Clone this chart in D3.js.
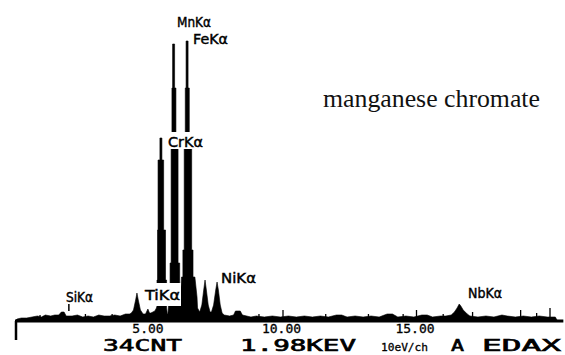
<!DOCTYPE html>
<html>
<head>
<meta charset="utf-8">
<script src="https://cdn.jsdelivr.net/npm/d3@7"></script>
<style>
body { margin: 0; background: #fff; }
</style>
</head>
<body>
<div id="chart"></div>
<script>
// spectrum outline, [energy keV, counts]
var spectrum = [
  [0.00, 0], [0.04, 1], [0.20, 2], [0.40, 2], [0.60, 3], [0.80, 4], [0.95, 3],
  [1.10, 5], [1.30, 4], [1.45, 5], [1.60, 5], [1.70, 8], [1.80, 8], [1.88, 4],
  [2.10, 4], [2.30, 5], [2.50, 3], [2.70, 4], [2.90, 3], [3.10, 5], [3.30, 4],
  [3.50, 4], [3.70, 5], [3.90, 4], [4.10, 6], [4.25, 6],
  // Ti
  [4.32, 7], [4.40, 10], [4.48, 20], [4.53, 27], [4.58, 20], [4.66, 10], [4.76, 6],
  [4.85, 6], [4.94, 11], [5.00, 7], [5.05, 7], [5.20, 9], [5.26, 12],
  // Cr
  [5.28, 14], [5.28, 40], [5.30, 40], [5.30, 90], [5.32, 90], [5.32, 160],
  [5.39, 160], [5.39, 182], [5.465, 182], [5.465, 160], [5.53, 160], [5.53, 90],
  [5.60, 90], [5.60, 40], [5.64, 40], [5.64, 12], [5.67, 6],
  // Mn
  [5.69, 6], [5.71, 14], [5.72, 35], [5.77, 35], [5.77, 57], [5.81, 57],
  [5.81, 178], [5.84, 178], [5.84, 232], [5.865, 232], [5.865, 276], [5.94, 276],
  [5.94, 232], [5.99, 232], [5.99, 178], [6.07, 178], [6.07, 57], [6.13, 57],
  [6.13, 35], [6.14, 18],
  // Fe
  [6.16, 23], [6.20, 43], [6.25, 43], [6.25, 70], [6.30, 70], [6.30, 178],
  [6.34, 178], [6.34, 232], [6.37, 232], [6.37, 279], [6.445, 279], [6.445, 232],
  [6.49, 232], [6.49, 178], [6.58, 178], [6.58, 70], [6.63, 70], [6.63, 43],
  [6.70, 43], [6.78, 23], [6.80, 12], [6.88, 8],
  // Fe Kb, Ni
  [6.96, 15], [7.03, 30], [7.08, 40], [7.13, 30], [7.20, 15], [7.27, 8],
  [7.32, 8], [7.40, 15], [7.48, 30], [7.53, 38], [7.58, 30], [7.65, 15], [7.72, 7],
  [7.80, 5], [8.00, 4], [8.15, 5], [8.22, 9], [8.40, 9], [8.48, 5],
  [8.80, 3], [9.00, 4], [9.30, 3], [9.60, 4], [9.90, 3], [10.20, 4], [10.50, 3],
  [10.80, 4], [11.10, 3], [11.40, 4], [11.70, 3], [12.00, 5], [12.20, 5], [12.40, 3],
  [12.70, 4], [13.00, 3], [13.30, 4], [13.60, 3], [13.90, 6], [14.10, 6], [14.30, 3],
  [14.60, 4], [14.90, 3], [15.20, 5], [15.40, 5], [15.60, 3], [15.90, 4], [16.10, 4],
  // Nb
  [16.30, 5], [16.42, 8], [16.52, 12], [16.60, 16], [16.66, 14], [16.75, 10],
  [16.90, 6], [17.00, 4], [17.30, 3], [17.60, 4], [17.90, 3], [18.20, 5], [18.40, 4],
  [18.70, 3], [19.00, 4], [19.30, 3], [19.60, 4], [19.90, 3], [20.20, 3], [20.26, 0]
];

// single-channel spikes on the background, [energy keV, counts]
var spikes = [
  [0.90, 5], [2.60, 6], [3.60, 6], [9.10, 6], [10.00, 10], [11.60, 6], [13.20, 6],
  [14.50, 6], [15.00, 10], [16.00, 6], [17.10, 8], [18.90, 10], [19.50, 7], [20.00, 12]
];

var peakNames = ["SiK\u03b1", "TiK\u03b1", "CrK\u03b1", "MnK\u03b1", "FeK\u03b1", "NiK\u03b1", "NbK\u03b1"];
var tickValues = [5, 10, 15];
var cursorKeV = 1.98;
var cursorCounts = 34;
var channelEV = 10;
var sampleName = "manganese chromate";

// label layout (px)
var labelX = [66, 145, 168, 177, 193, 221, 468];
var labelY = [302, 300, 147, 27, 44, 283, 298];
var labelW = [27, 35, 35, 34, 35, 35, 34];
// white boxes that hide the spectrum behind some labels: [x, y, w, h]
var labelBox = [null, [143, 283, 38, 23], [166, 132, 39, 17], null, null, null, null];

var svgWidth = 565;
var svgHeight = 355;

var svg = d3.select("#chart").append("svg")
  .attr("width", svgWidth)
  .attr("height", svgHeight)
  .style("display", "block");

var x = d3.scaleLinear().domain([0, 20.5]).range([16, 563.35]);
var y = d3.scaleLinear().domain([0, 280]).range([320, 40]);

//spectrum fill
var area = d3.area()
  .x(d => x(d[0]))
  .y0(y(0))
  .y1(d => y(d[1]));

svg.append("path")
  .datum(spectrum)
  .attr("d", area)
  .attr("fill", "#000")
  .attr("stroke", "#000")
  .attr("stroke-width", 0.6);

svg.selectAll(".spike")
  .data(spikes)
  .enter()
  .append("line")
  .attr("class", "spike")
  .attr("x1", d => x(d[0]))
  .attr("x2", d => x(d[0]))
  .attr("y1", y(0))
  .attr("y2", d => y(d[1]))
  .attr("stroke", "#000")
  .attr("stroke-width", 1.3);

//baseline axis
svg.append("line")
  .attr("x1", x(0) - 1).attr("x2", x(20.5))
  .attr("y1", 321).attr("y2", 321)
  .attr("stroke", "#000").attr("stroke-width", 3);

//zero marker below axis
svg.append("line")
  .attr("x1", x(0)).attr("x2", x(0))
  .attr("y1", 321).attr("y2", 340)
  .attr("stroke", "#000").attr("stroke-width", 2.5);

//cursor marker
svg.append("line")
  .attr("x1", x(cursorKeV)).attr("x2", x(cursorKeV))
  .attr("y1", 304).attr("y2", 311)
  .attr("stroke", "#000").attr("stroke-width", 1.5);

//tick labels
var bottomAxis = d3.axisBottom(x)
  .tickValues(tickValues)
  .tickSize(0)
  .tickPadding(3)
  .tickFormat(d3.format(".2f"));

var xAxis = svg.append("g")
  .attr("transform", "translate(-2, 321)")
  .call(bottomAxis);
xAxis.select(".domain").remove();
xAxis.selectAll("text")
  .attr("font-family", "DejaVu Sans Mono")
  .attr("font-size", 13)
  .attr("fill", "#000")
  .attr("stroke", "#000")
  .attr("stroke-width", 0.3);

//peak labels
peakNames.forEach(function(name, i) {
  if (labelBox[i]) {
    svg.append("rect")
      .attr("x", labelBox[i][0]).attr("y", labelBox[i][1])
      .attr("width", labelBox[i][2]).attr("height", labelBox[i][3])
      .attr("fill", "#fff");
  }
  svg.append("text")
    .attr("x", labelX[i])
    .attr("y", labelY[i])
    .attr("textLength", labelW[i])
    .attr("lengthAdjust", "spacingAndGlyphs")
    .attr("font-family", "DejaVu Sans")
    .attr("font-size", 14)
    .attr("fill", "#000")
    .attr("stroke", "#000")
    .attr("stroke-width", 0.45)
    .text(name);
});

//sample name
svg.append("text")
  .attr("x", 323)
  .attr("y", 107)
  .attr("textLength", 217)
  .attr("lengthAdjust", "spacingAndGlyphs")
  .attr("font-family", "Liberation Serif")
  .attr("font-size", 25)
  .attr("fill", "#111")
  .text(sampleName);

//status line
var footer = [
  { t: cursorCounts + "CNT", x: 103, w: 79, s: 15.5 },
  { t: cursorKeV.toFixed(2) + "KEV", x: 240, w: 116, s: 15.5 },
  { t: channelEV + "eV/ch", x: 381, w: 47, s: 11 },
  { t: "A", x: 451, w: 13, s: 15.5 },
  { t: "EDAX", x: 482, w: 79, s: 15.5 }
];
svg.selectAll(".footer")
  .data(footer)
  .enter()
  .append("text")
  .attr("class", "footer")
  .attr("x", d => d.x)
  .attr("y", 351)
  .attr("textLength", d => d.w)
  .attr("lengthAdjust", "spacingAndGlyphs")
  .attr("font-family", "DejaVu Sans Mono")
  .attr("font-size", d => d.s)
  .attr("fill", "#000")
  .attr("stroke", "#000")
  .attr("stroke-width", d => d.s > 12 ? 0.6 : 0.3)
  .text(d => d.t);
</script>
</body>
</html>
